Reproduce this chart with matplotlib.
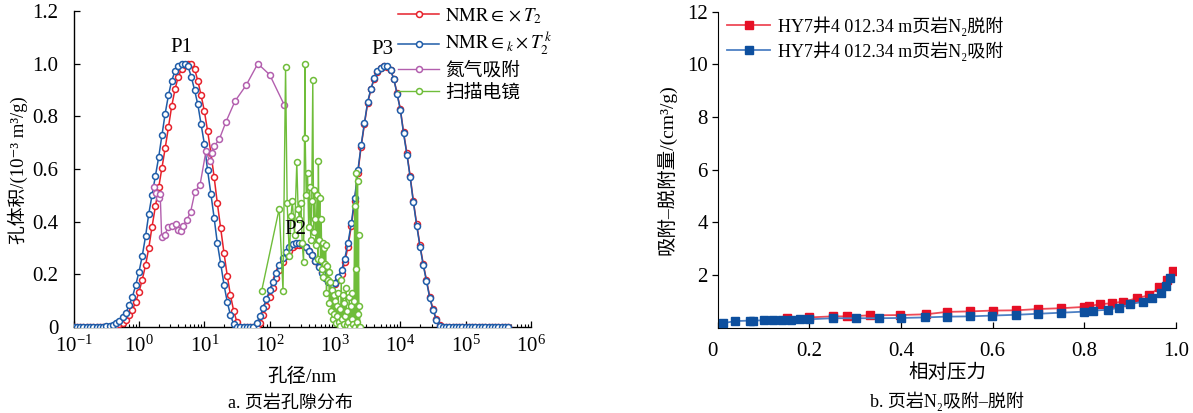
import matplotlib
matplotlib.use("Agg")
import matplotlib.pyplot as plt
from matplotlib.ticker import (FixedLocator, FixedFormatter, NullFormatter,
                               LogFormatterSciNotation)

plt.rcParams['font.family'] = ['Liberation Serif', 'DejaVu Serif', 'Noto Sans CJK SC']
plt.rcParams['mathtext.fontset'] = 'stix'

# ---------------- data: panel a ----------------
nmr_d = [0.1, 0.112, 0.126, 0.141, 0.158, 0.178, 0.2, 0.224, 0.251, 0.282, 0.316, 0.355, 0.398, 0.447, 0.501, 0.562, 0.631, 0.708, 0.794, 0.891,
         1, 1.12, 1.26, 1.41, 1.58, 1.78, 2, 2.24, 2.51, 2.82, 3.16, 3.55, 3.98, 4.47, 5.01, 5.62, 6.31, 7.08, 7.94, 8.91,
         10, 11.2, 12.6, 14.1, 15.8, 17.8, 20, 22.4, 25.1, 28.2, 31.6, 35.5, 39.8, 44.7, 50.1, 56.2, 63.1, 70.8, 79.4, 89.1,
         100, 112, 126, 141, 158, 178, 200, 224, 251, 282, 316, 355, 398, 447, 501, 562, 631, 708, 794, 891,
         1000, 1120, 1260, 1410, 1580, 1780, 2000, 2240, 2510, 2820, 3160, 3550, 3980, 4470, 5010, 5620, 6310, 7080, 7940, 8910,
         10000, 11200, 12600, 14100, 15800, 17800, 20000, 22400, 25100, 28200, 31600, 35500, 39800, 44700, 50100, 56200, 63100, 70800, 79400, 89100,
         100000, 112000, 126000, 141000, 158000, 178000, 200000, 224000, 251000, 282000, 316000, 355000, 398000, 447000]

nmr_red = [0, 0, 0, 0, 0, 0, 0, 0, 0, 0, 0,
           0.001, 0.003, 0.005, 0.01, 0.017, 0.028, 0.045, 0.066, 0.096, 0.133,
           0.18, 0.235, 0.30, 0.38, 0.458, 0.53, 0.603, 0.678, 0.76, 0.838,
           0.902, 0.95, 0.98, 0.995, 1.0, 0.998, 0.98, 0.935, 0.88, 0.82,
           0.745, 0.66, 0.57, 0.47, 0.375, 0.28, 0.195, 0.12, 0.06, 0.018,
           0, 0, 0, 0, 0, 0,
           0.015, 0.045, 0.08, 0.115, 0.15, 0.185, 0.215, 0.245, 0.27, 0.29,
           0.303, 0.31, 0.312, 0.31, 0.302, 0.29, 0.272, 0.252, 0.23, 0.208,
           0.19, 0.176, 0.165, 0.163, 0.178, 0.2, 0.245, 0.305, 0.385, 0.48,
           0.585, 0.685, 0.77, 0.85, 0.903, 0.943, 0.97, 0.985, 0.99, 0.988,
           0.975, 0.943, 0.887, 0.828, 0.74, 0.66, 0.575, 0.48, 0.39, 0.31,
           0.24, 0.178, 0.115, 0.068, 0.03, 0.006,
           0, 0, 0, 0, 0, 0, 0, 0, 0, 0, 0, 0, 0, 0, 0, 0, 0, 0, 0, 0, 0]

nmr_blue = [0, 0, 0, 0, 0, 0, 0, 0, 0, 0,
            0.002, 0.004, 0.008, 0.014, 0.022, 0.038, 0.055, 0.083, 0.115, 0.16,
            0.21, 0.27, 0.345, 0.43, 0.50, 0.575, 0.645, 0.728, 0.81, 0.88,
            0.935, 0.972, 0.99, 1.0, 1.0, 0.99, 0.95, 0.9, 0.845, 0.77,
            0.695, 0.595, 0.505, 0.415, 0.318, 0.24, 0.16, 0.095, 0.045, 0.01,
            0, 0, 0, 0, 0, 0,
            0.014, 0.04, 0.072, 0.106, 0.14, 0.172, 0.205, 0.235, 0.262, 0.285,
            0.302, 0.314, 0.32, 0.32, 0.317, 0.305, 0.29, 0.272, 0.25, 0.226,
            0.204, 0.186, 0.172, 0.162, 0.166, 0.19, 0.215, 0.26, 0.32, 0.395,
            0.49, 0.595, 0.69, 0.775, 0.855, 0.905, 0.945, 0.972, 0.985, 0.99,
            0.99, 0.975, 0.942, 0.885, 0.825, 0.735, 0.655, 0.57, 0.475, 0.385,
            0.305, 0.235, 0.175, 0.11, 0.065, 0.028, 0.004,
            0, 0, 0, 0, 0, 0, 0, 0, 0, 0, 0, 0, 0, 0, 0, 0, 0, 0, 0, 0, 0]

n2_d = [1.70, 1.84, 2.0, 2.11, 2.22, 2.51, 2.75, 3.24, 3.67, 3.98, 4.37, 4.68, 5.37, 6.17,
        7.19, 8.59, 10.57, 12.0, 12.9, 14.1, 17.0, 21.4, 29.5, 43.6, 65.8, 100, 168]
n2_v = [0.53, 0.51, 0.49, 0.505, 0.34, 0.35, 0.378, 0.385, 0.39, 0.37, 0.366, 0.385, 0.405, 0.438,
        0.514, 0.54, 0.667, 0.632, 0.66, 0.686, 0.714, 0.779, 0.858, 0.918, 1.0, 0.958, 0.842]

sem_d = [75, 140, 160, 175, 185, 200, 212, 222, 240, 260, 272, 285, 300, 315, 330, 348, 350, 362, 380, 395,
         410, 425, 440, 457, 470, 485, 500, 515, 530, 545, 557, 570, 585, 600, 615, 630, 650, 665, 680, 700,
         720, 740, 760, 780, 800, 820, 845, 870, 895, 920, 950, 975, 1000, 1030, 1060, 1090, 1120, 1150, 1180, 1210,
         1245, 1280, 1315, 1350, 1390, 1430, 1470, 1510, 1550, 1600, 1650, 1700, 1750, 1800, 1850, 1900, 1950, 2000, 2040, 2090,
         2130, 2170, 2210, 2250, 2290, 2330, 2370, 2400]
sem_v = [0.135, 0.45, 0.135, 0.987, 0.47, 0.27, 0.42, 0.48, 0.35, 0.625, 0.45, 0.41, 0.47, 0.32, 0.245, 1.0, 0.717, 0.50, 0.584, 0.38,
         0.53, 0.33, 0.48, 0.937, 0.36, 0.52, 0.41, 0.31, 0.50, 0.26, 0.629, 0.33, 0.49, 0.255, 0.41, 0.22, 0.32, 0.19, 0.30, 0.24,
         0.31, 0.13, 0.23, 0.18, 0.21, 0.09, 0.17, 0.06, 0.14, 0.03, 0.12, 0.05, 0.10, 0.014, 0.08, 0.04, 0.13, 0.02, 0.07, 0.005,
         0.18, 0.03, 0.12, 0.01, 0.09, 0.04, 0.15, 0.008, 0.06, 0.02, 0.115, 0.0, 0.08, 0.03, 0.128, 0.01, 0.10, 0.46, 0.0, 0.22,
         0.584, 0.02, 0.553, 0.05, 0.35, 0.0, 0.08, 0.0]

labels_a = [r'$\mathrm{NMR}\in\times T_2$', r'$\mathrm{NMR}\in_k\times T_2^{\,k}$', '氮气吸附', '扫描电镜']
peak_names = ['P1', 'P2', 'P3']
peak_x = [4.4, 245, 5400]
peak_y = [1.061, 0.369, 1.053]
xticks_a = [1e-1, 1e0, 1e1, 1e2, 1e3, 1e4, 1e5, 1e6]
minor_subs_a = [2, 3, 4, 5, 6, 7, 8, 9]
yticks_a = [0, 0.2, 0.4, 0.6, 0.8, 1.0, 1.2]
yticklabels_a = ['0', '0.2', '0.4', '0.6', '0.8', '1.0', '1.2']

# ---------------- data: panel b ----------------
des_p = [0.151, 0.20, 0.251, 0.282, 0.333, 0.398, 0.455, 0.50, 0.551, 0.60, 0.651, 0.70, 0.75, 0.80, 0.81, 0.834,
         0.86, 0.885, 0.916, 0.942, 0.964, 0.98, 0.993]
des_v = [0.38, 0.39, 0.43, 0.43, 0.47, 0.48, 0.51, 0.60, 0.62, 0.65, 0.66, 0.71, 0.74, 0.79, 0.82, 0.89,
         0.93, 0.99, 1.12, 1.24, 1.53, 1.81, 2.16]
ads_p = [0.012, 0.038, 0.071, 0.078, 0.101, 0.12, 0.14, 0.16, 0.18, 0.20, 0.251, 0.302, 0.352, 0.40, 0.453, 0.50,
         0.551, 0.598, 0.651, 0.70, 0.75, 0.80, 0.82, 0.851, 0.876, 0.90, 0.927, 0.947, 0.967, 0.978, 0.987]
ads_v = [0.17, 0.25, 0.27, 0.27, 0.28, 0.28, 0.28, 0.30, 0.32, 0.32, 0.36, 0.36, 0.36, 0.37, 0.39, 0.42,
         0.43, 0.46, 0.49, 0.53, 0.57, 0.61, 0.65, 0.68, 0.76, 0.89, 0.99, 1.12, 1.31, 1.58, 1.87]
labels_b = ['HY7井4 012.34 m页岩N₂脱附', 'HY7井4 012.34 m页岩N₂吸附']
xticks_b = [0, 0.2, 0.4, 0.6, 0.8, 1.0]
xticklabels_b = ['0', '0.2', '0.4', '0.6', '0.8', '1.0']
yticks_b = [2, 4, 6, 8, 10, 12]
yticklabels_b = ['2', '4', '6', '8', '10', '12']

W, H = 1193, 413
fig = plt.figure(figsize=(W / 100, H / 100), dpi=100)

def fx(px):
    return px / W

def fy(py):
    return 1 - py / H

RED = '#e6212b'
BLUE = '#1f5ca8'
PURPLE = '#b35fae'
GREEN = '#6fbd3a'
TICK_FS = 15
LABEL_FS = 14

# ---------------- panel a ----------------
AX1_L, AX1_R, AX1_T, AX1_B = 73.7, 531, 11, 327
ax1 = fig.add_axes([fx(AX1_L), fy(AX1_B), fx(AX1_R) - fx(AX1_L), fy(AX1_T) - fy(AX1_B)])
mk = dict(marker='o', markersize=4.3, markerfacecolor='white', markeredgewidth=1.1)
ax1.plot(nmr_d, nmr_red, color=RED, lw=1.1, markeredgecolor=RED, label=labels_a[0], zorder=3, **mk)
ax1.plot(nmr_d, nmr_blue, color=BLUE, lw=1.1, markeredgecolor=BLUE, label=labels_a[1], zorder=4, **mk)
ax1.plot(n2_d, n2_v, color=PURPLE, lw=1.0, markeredgecolor=PURPLE, label=labels_a[2], zorder=5, **mk)
ax1.plot(sem_d, sem_v, color=GREEN, lw=1.0, markeredgecolor=GREEN, label=labels_a[3], zorder=6, **mk)
ax1.set_xscale('log')
ax1.set_xlim(xticks_a[0], xticks_a[-1])
ax1.set_ylim(yticks_a[0], yticks_a[-1])
ax1.xaxis.set_major_locator(FixedLocator(xticks_a))
ax1.xaxis.set_major_formatter(LogFormatterSciNotation())
ax1.xaxis.set_minor_locator(FixedLocator([d * s for d in xticks_a[:-1] for s in minor_subs_a]))
ax1.xaxis.set_minor_formatter(NullFormatter())
ax1.yaxis.set_major_locator(FixedLocator(yticks_a))
ax1.yaxis.set_major_formatter(FixedFormatter(yticklabels_a))
for s in ['top', 'right']:
    ax1.spines[s].set_visible(False)
for s in ['left', 'bottom']:
    ax1.spines[s].set_linewidth(1.0)
ax1.tick_params(axis='both', which='major', direction='in', length=4, width=0.9, labelsize=TICK_FS)
ax1.tick_params(axis='y', which='major', pad=11)
ax1.tick_params(axis='x', which='major', pad=6)
ax1.tick_params(axis='x', which='minor', direction='in', length=2.5, width=0.8)
for name, xx, yy in zip(peak_names, peak_x, peak_y):
    ax1.text(xx, yy, name, ha='center', va='center', fontsize=15, zorder=7)
w1 = AX1_R - AX1_L
h1 = AX1_B - AX1_T
ax1.set_xlabel('孔径/nm', fontsize=LABEL_FS)
ax1.xaxis.set_label_coords((302 - AX1_L) / w1, -(368 - AX1_B) / h1, transform=ax1.transAxes)
ax1.set_ylabel('孔体积/(10⁻³ m³/g)', fontsize=13.5)
ax1.yaxis.set_label_coords(-(AX1_L - 28) / w1, (AX1_B - 170) / h1, transform=ax1.transAxes)
leg1 = ax1.legend(loc='upper left', bbox_to_anchor=(fx(398), fy(6)), bbox_transform=fig.transFigure,
                  frameon=False, fontsize=13.5, handlelength=2.2, handletextpad=0.3,
                  labelspacing=0.25, borderpad=0, borderaxespad=0)
fig.text(fx(290), fy(403), 'a. 页岩孔隙分布', ha='center', va='center', fontsize=13)

# ---------------- panel b ----------------
AX2_L, AX2_R, AX2_T, AX2_B = 717.5, 1176, 11.7, 327.7
ax2 = fig.add_axes([fx(AX2_L), fy(AX2_B), fx(AX2_R) - fx(AX2_L), fy(AX2_T) - fy(AX2_B)])
RED2 = '#e60f25'
BLUE2 = '#0d4f9e'
ax2.plot(des_p, des_v, color='#ee4a57', lw=1.3, marker='s', markersize=5.5, markerfacecolor=RED2,
         markeredgecolor=RED2, label=labels_b[0], zorder=3)
ax2.plot(ads_p, ads_v, color='#4d80c4', lw=1.3, marker='s', markersize=5.5, markerfacecolor=BLUE2,
         markeredgecolor=BLUE2, label=labels_b[1], zorder=4)
ax2.set_xlim(xticks_b[0], xticks_b[-1])
ax2.set_ylim(0, yticks_b[-1])
ax2.xaxis.set_major_locator(FixedLocator(xticks_b))
ax2.xaxis.set_major_formatter(FixedFormatter(xticklabels_b))
ax2.yaxis.set_major_locator(FixedLocator(yticks_b))
ax2.yaxis.set_major_formatter(FixedFormatter(yticklabels_b))
for s in ['top', 'right']:
    ax2.spines[s].set_visible(False)
ax2.tick_params(axis='x', direction='in', length=4, width=0.9, labelsize=TICK_FS, pad=10)
ax2.tick_params(axis='y', direction='out', length=4, width=0.9, labelsize=TICK_FS, pad=3)
# the shared-origin "0" sits slightly left of the origin in the reference
ax2.xaxis.get_major_ticks()[0].label1.set_horizontalalignment('right')
w2 = AX2_R - AX2_L
h2 = AX2_B - AX2_T
ax2.set_xlabel('相对压力', fontsize=LABEL_FS)
ax2.xaxis.set_label_coords((947 - AX2_L) / w2, -(363 - AX2_B) / h2, transform=ax2.transAxes)
ax2.set_ylabel('吸附–脱附量/(cm³/g)', fontsize=LABEL_FS)
ax2.yaxis.set_label_coords(-(AX2_L - 677) / w2, (AX2_B - 170) / h2, transform=ax2.transAxes)
leg2 = ax2.legend(loc='upper left', bbox_to_anchor=(fx(727), fy(16)), bbox_transform=fig.transFigure,
                  frameon=False, fontsize=13, handlelength=2.4, handletextpad=0.45,
                  labelspacing=0.3, borderpad=0, borderaxespad=0)
fig.text(fx(947), fy(401), 'b. 页岩N₂吸附–脱附', ha='center', va='center', fontsize=13)

fig.savefig('out.png', dpi=100)
